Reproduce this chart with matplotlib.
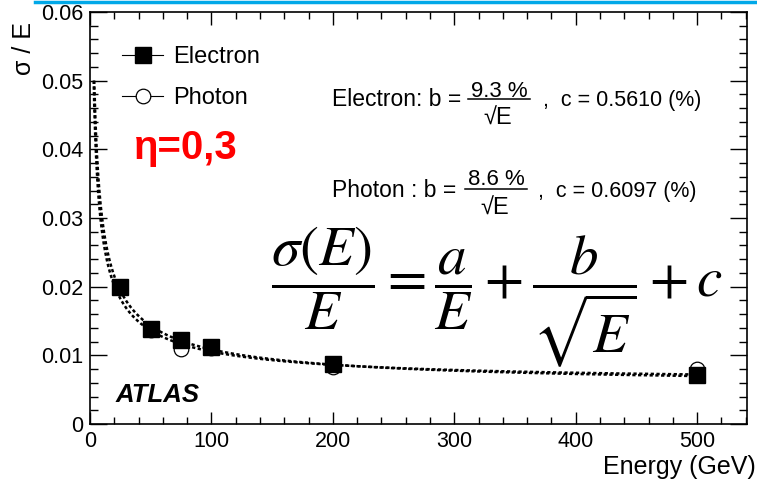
import numpy as np
import matplotlib
matplotlib.use("Agg")
import matplotlib.pyplot as plt
from matplotlib.lines import Line2D

plt.rcParams['font.family'] = ['Liberation Sans', 'DejaVu Sans']

# ---- data ----
energy = [25, 50, 75, 100, 200, 500]
electron = [0.0200, 0.0139, 0.0123, 0.0112, 0.0087, 0.0072]
photon = [0.0198, 0.0137, 0.0109, 0.0110, 0.0083, 0.0080]

# fit parameters as printed on the chart (percent)
fit_b = {"Electron": 9.3, "Photon": 8.6}
fit_c = {"Electron": 0.5610, "Photon": 0.6097}

xticks = [0, 100, 200, 300, 400, 500]
yticks = [0, 0.01, 0.02, 0.03, 0.04, 0.05, 0.06]
ytick_labels = ["0", "0.01", "0.02", "0.03", "0.04", "0.05", "0.06"]

W, H = 757, 482
fig = plt.figure(figsize=(W / 100, H / 100), dpi=100)


def px(x, y):
    return x / W, 1 - y / H


ax = fig.add_axes([90 / W, 1 - 424 / H, (747 - 90) / W, (424 - 12) / H])
ax.set_xlim(0, 541)
ax.set_ylim(0, 0.06)

# fit curves
for name in ["Electron", "Photon"]:
    b, c = fit_b[name], fit_c[name]
    e0 = b ** 2 / (5.0 ** 2 - c ** 2)
    E = np.geomspace(e0, 500, 400)
    f = np.sqrt((b / np.sqrt(E)) ** 2 + c ** 2) / 100
    ax.plot(E, f, color='black', lw=1.8, linestyle=(0, (1.3, 1.0)), zorder=2)

ax.plot(energy, photon, linestyle='none', marker='o', ms=10.5, mfc='white',
        mec='black', mew=0.9, zorder=3)
ax.plot(energy, electron, linestyle='none', marker='s', ms=11.5, mfc='black',
        mec='black', zorder=4)

ax.set_xticks(xticks)
ax.set_yticks(yticks)
ax.set_yticklabels(ytick_labels)
ax.set_xticks(np.arange(0, 541, 20), minor=True)
ax.set_yticks(np.arange(0, 0.0601, 0.002), minor=True)
ax.tick_params(which='both', direction='in', top=True, right=True,
               labelsize=15.5, width=1.0)
ax.tick_params(axis='x', which='major', length=9, pad=5)
ax.tick_params(axis='x', which='minor', length=5)
ax.tick_params(axis='y', which='major', length=12, pad=5)
ax.tick_params(axis='y', which='minor', length=6)
for s in ax.spines.values():
    s.set_linewidth(1.2)

fig.text(*px(24, 22), "σ / E", rotation=90, ha='center', va='top', fontsize=18)
fig.text(*px(756, 467), "Energy (GeV)", ha='right', va='center', fontsize=18)

# legend
handles = [
    Line2D([], [], marker='s', color='black', lw=0.8, ms=11.5, mfc='black'),
    Line2D([], [], marker='o', color='black', lw=0.8, ms=10.5, mfc='white', mew=0.9),
]
fig.legend(handles, ["Electron", "Photon"], loc='upper left',
           bbox_to_anchor=px(122, 46), bbox_transform=fig.transFigure,
           frameon=False, fontsize=17, handlelength=1.75, handletextpad=0.4,
           labelspacing=0.8, borderpad=0, borderaxespad=0)

# fit-result annotations (text pieces with a fraction)
def fit_note(x0, base, label, num, num_base, bar_y, bar_x0, bar_x1, den_base, tail_x, tail):
    fig.text(*px(x0, base), label, ha='left', va='baseline', fontsize=16.5)
    xc = (bar_x0 + bar_x1) / 2
    fig.text(*px(xc, num_base), num, ha='center', va='baseline', fontsize=16)
    fig.add_artist(Line2D([bar_x0 / W, bar_x1 / W], [1 - bar_y / H, 1 - bar_y / H],
                          color='black', lw=1.1, transform=fig.transFigure))
    fig.text(*px(xc - 1, den_base), "\u221aE", ha='center', va='baseline', fontsize=17)
    fig.text(*px(tail_x, base), tail, ha='left', va='baseline', fontsize=15.5)


fit_note(332, 106, "Electron: b =", "9.3 %", 97, 99.5, 468, 530, 125, 543,
         ",  c = 0.5610 (%)")
fit_note(332, 197, "Photon : b =", "8.6 %", 185, 188.5, 465, 527, 215, 538,
         ",  c = 0.6097 (%)")

fig.text(*px(186, 148), "η=0,3", color='#ff0000', fontweight='bold',
         ha='center', va='center', fontsize=29)

fig.text(*px(497, 297), r"$\dfrac{\sigma(E)}{E}=\dfrac{a}{E}+\dfrac{b}{\sqrt{E}}+c$",
         math_fontfamily='stix', ha='center', va='center', fontsize=41)

fig.text(*px(158, 395), "ATLAS", fontweight='bold', fontstyle='italic',
         ha='center', va='center', fontsize=18.5)

# blue slide rule at top
fig.add_artist(Line2D([35 / W, 1], [1 - 1.5 / H, 1 - 1.5 / H], color='#00a8e8',
                      lw=2.5, transform=fig.transFigure))

fig.savefig("out.png", dpi=100)
